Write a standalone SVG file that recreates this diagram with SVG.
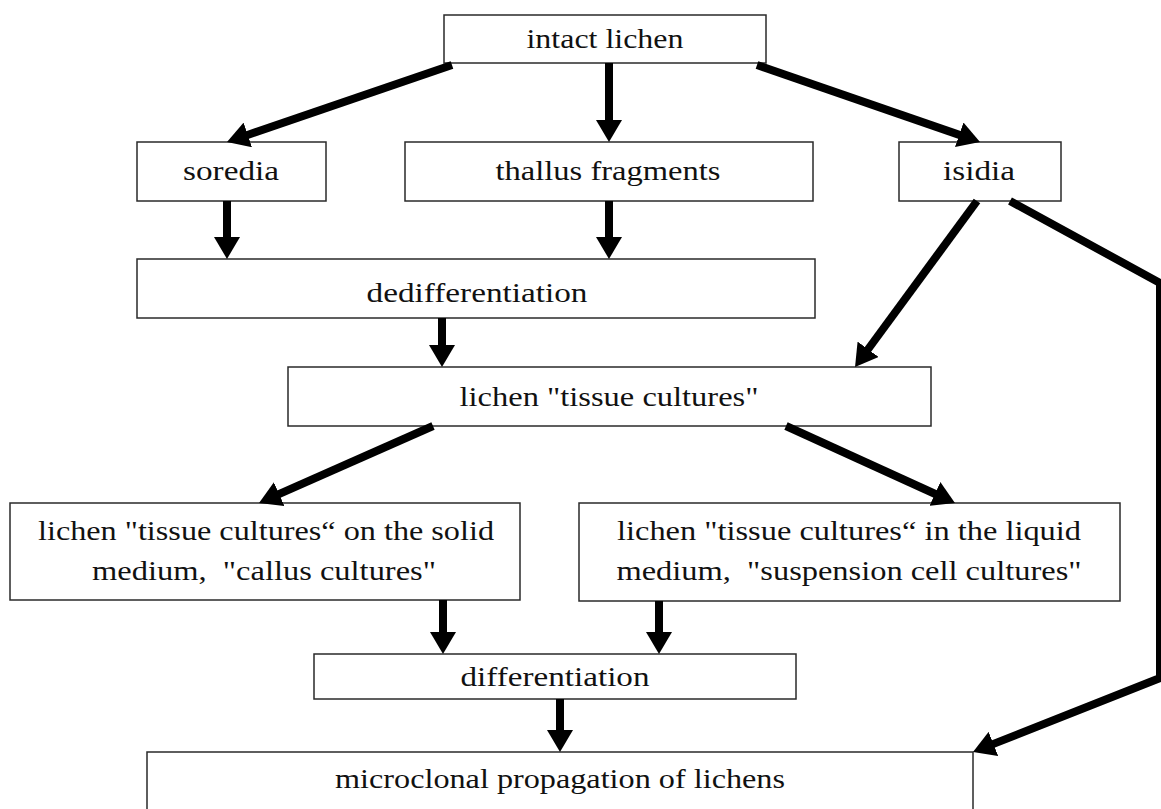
<svg xmlns="http://www.w3.org/2000/svg" width="1161" height="809" viewBox="0 0 1161 809">
<style>
.box{fill:#fff;stroke:#2a2a2a;stroke-width:1.5}
.t{font-family:"Liberation Serif","Times New Roman",serif;font-size:27px;fill:#111;text-anchor:middle;white-space:pre}
.c{fill:none;stroke:#000;stroke-width:8;stroke-linejoin:miter}
</style>
<defs>
<marker id="ah" viewBox="0 0 22 26" markerUnits="userSpaceOnUse" markerWidth="22" markerHeight="26" refX="4" refY="13" orient="auto">
<path d="M0,0 L22,13 L0,26 z" fill="#000"/>
</marker>
</defs>
<rect width="1161" height="809" fill="#fff"/>
<g id="nodes">
<g id="n-intact"><rect class="box" x="444" y="15" width="322" height="48"/><text class="t" x="605" y="48" textLength="157" lengthAdjust="spacingAndGlyphs">intact lichen</text></g>
<g id="n-soredia"><rect class="box" x="137" y="142" width="189" height="59"/><text class="t" x="231" y="180" textLength="96" lengthAdjust="spacingAndGlyphs">soredia</text></g>
<g id="n-thallus"><rect class="box" x="405" y="142" width="408" height="59"/><text class="t" x="608" y="180" textLength="225" lengthAdjust="spacingAndGlyphs">thallus fragments</text></g>
<g id="n-isidia"><rect class="box" x="899" y="142" width="162" height="59"/><text class="t" x="979" y="180" textLength="72" lengthAdjust="spacingAndGlyphs">isidia</text></g>
<g id="n-dediff"><rect class="box" x="137" y="259" width="678" height="59"/><text class="t" x="477" y="302" textLength="221" lengthAdjust="spacingAndGlyphs">dedifferentiation</text></g>
<g id="n-tissue"><rect class="box" x="288" y="367" width="643" height="59"/><text class="t" x="609" y="406" textLength="299" lengthAdjust="spacingAndGlyphs">lichen "tissue cultures"</text></g>
<g id="n-solid"><rect class="box" x="10" y="503" width="510" height="97"/><text class="t" x="266" y="540" textLength="456" lengthAdjust="spacingAndGlyphs">lichen "tissue cultures“ on the solid</text><text class="t" x="264" y="580" textLength="344" lengthAdjust="spacingAndGlyphs">medium,  "callus cultures"</text></g>
<g id="n-liquid"><rect class="box" x="579" y="503" width="541" height="98"/><text class="t" x="849" y="540" textLength="464" lengthAdjust="spacingAndGlyphs">lichen "tissue cultures“ in the liquid</text><text class="t" x="849" y="580" textLength="465" lengthAdjust="spacingAndGlyphs">medium,  "suspension cell cultures"</text></g>
<g id="n-diff"><rect class="box" x="314" y="654" width="482" height="45"/><text class="t" x="555" y="686" textLength="189" lengthAdjust="spacingAndGlyphs">differentiation</text></g>
<g id="n-micro"><rect class="box" x="147" y="752" width="826" height="70"/><text class="t" x="560" y="788" textLength="450" lengthAdjust="spacingAndGlyphs">microclonal propagation of lichens</text></g>
</g>
<g id="connectors">
<line class="c" x1="452" y1="65" x2="244" y2="136.2" marker-end="url(#ah)"/>
<line class="c" x1="609" y1="63" x2="609" y2="124" marker-end="url(#ah)"/>
<line class="c" x1="757" y1="65" x2="963" y2="136.1" marker-end="url(#ah)"/>
<line class="c" x1="227" y1="201" x2="227" y2="241" marker-end="url(#ah)"/>
<line class="c" x1="609" y1="201" x2="609" y2="241" marker-end="url(#ah)"/>
<line class="c" x1="442" y1="318" x2="442" y2="349" marker-end="url(#ah)"/>
<line class="c" x1="977" y1="201" x2="865.7" y2="352.5" marker-end="url(#ah)"/>
<line class="c" x1="433" y1="426" x2="275.5" y2="495.7" marker-end="url(#ah)"/>
<line class="c" x1="786" y1="426" x2="938.6" y2="495.5" marker-end="url(#ah)"/>
<line class="c" x1="443" y1="600" x2="443" y2="636" marker-end="url(#ah)"/>
<line class="c" x1="659" y1="601" x2="659" y2="636" marker-end="url(#ah)"/>
<line class="c" x1="560" y1="699" x2="560" y2="734" marker-end="url(#ah)"/>
<polyline class="c" points="1010,201 1160,283 1160,678 989.7,745.4" marker-end="url(#ah)"/>
</g>
</svg>
